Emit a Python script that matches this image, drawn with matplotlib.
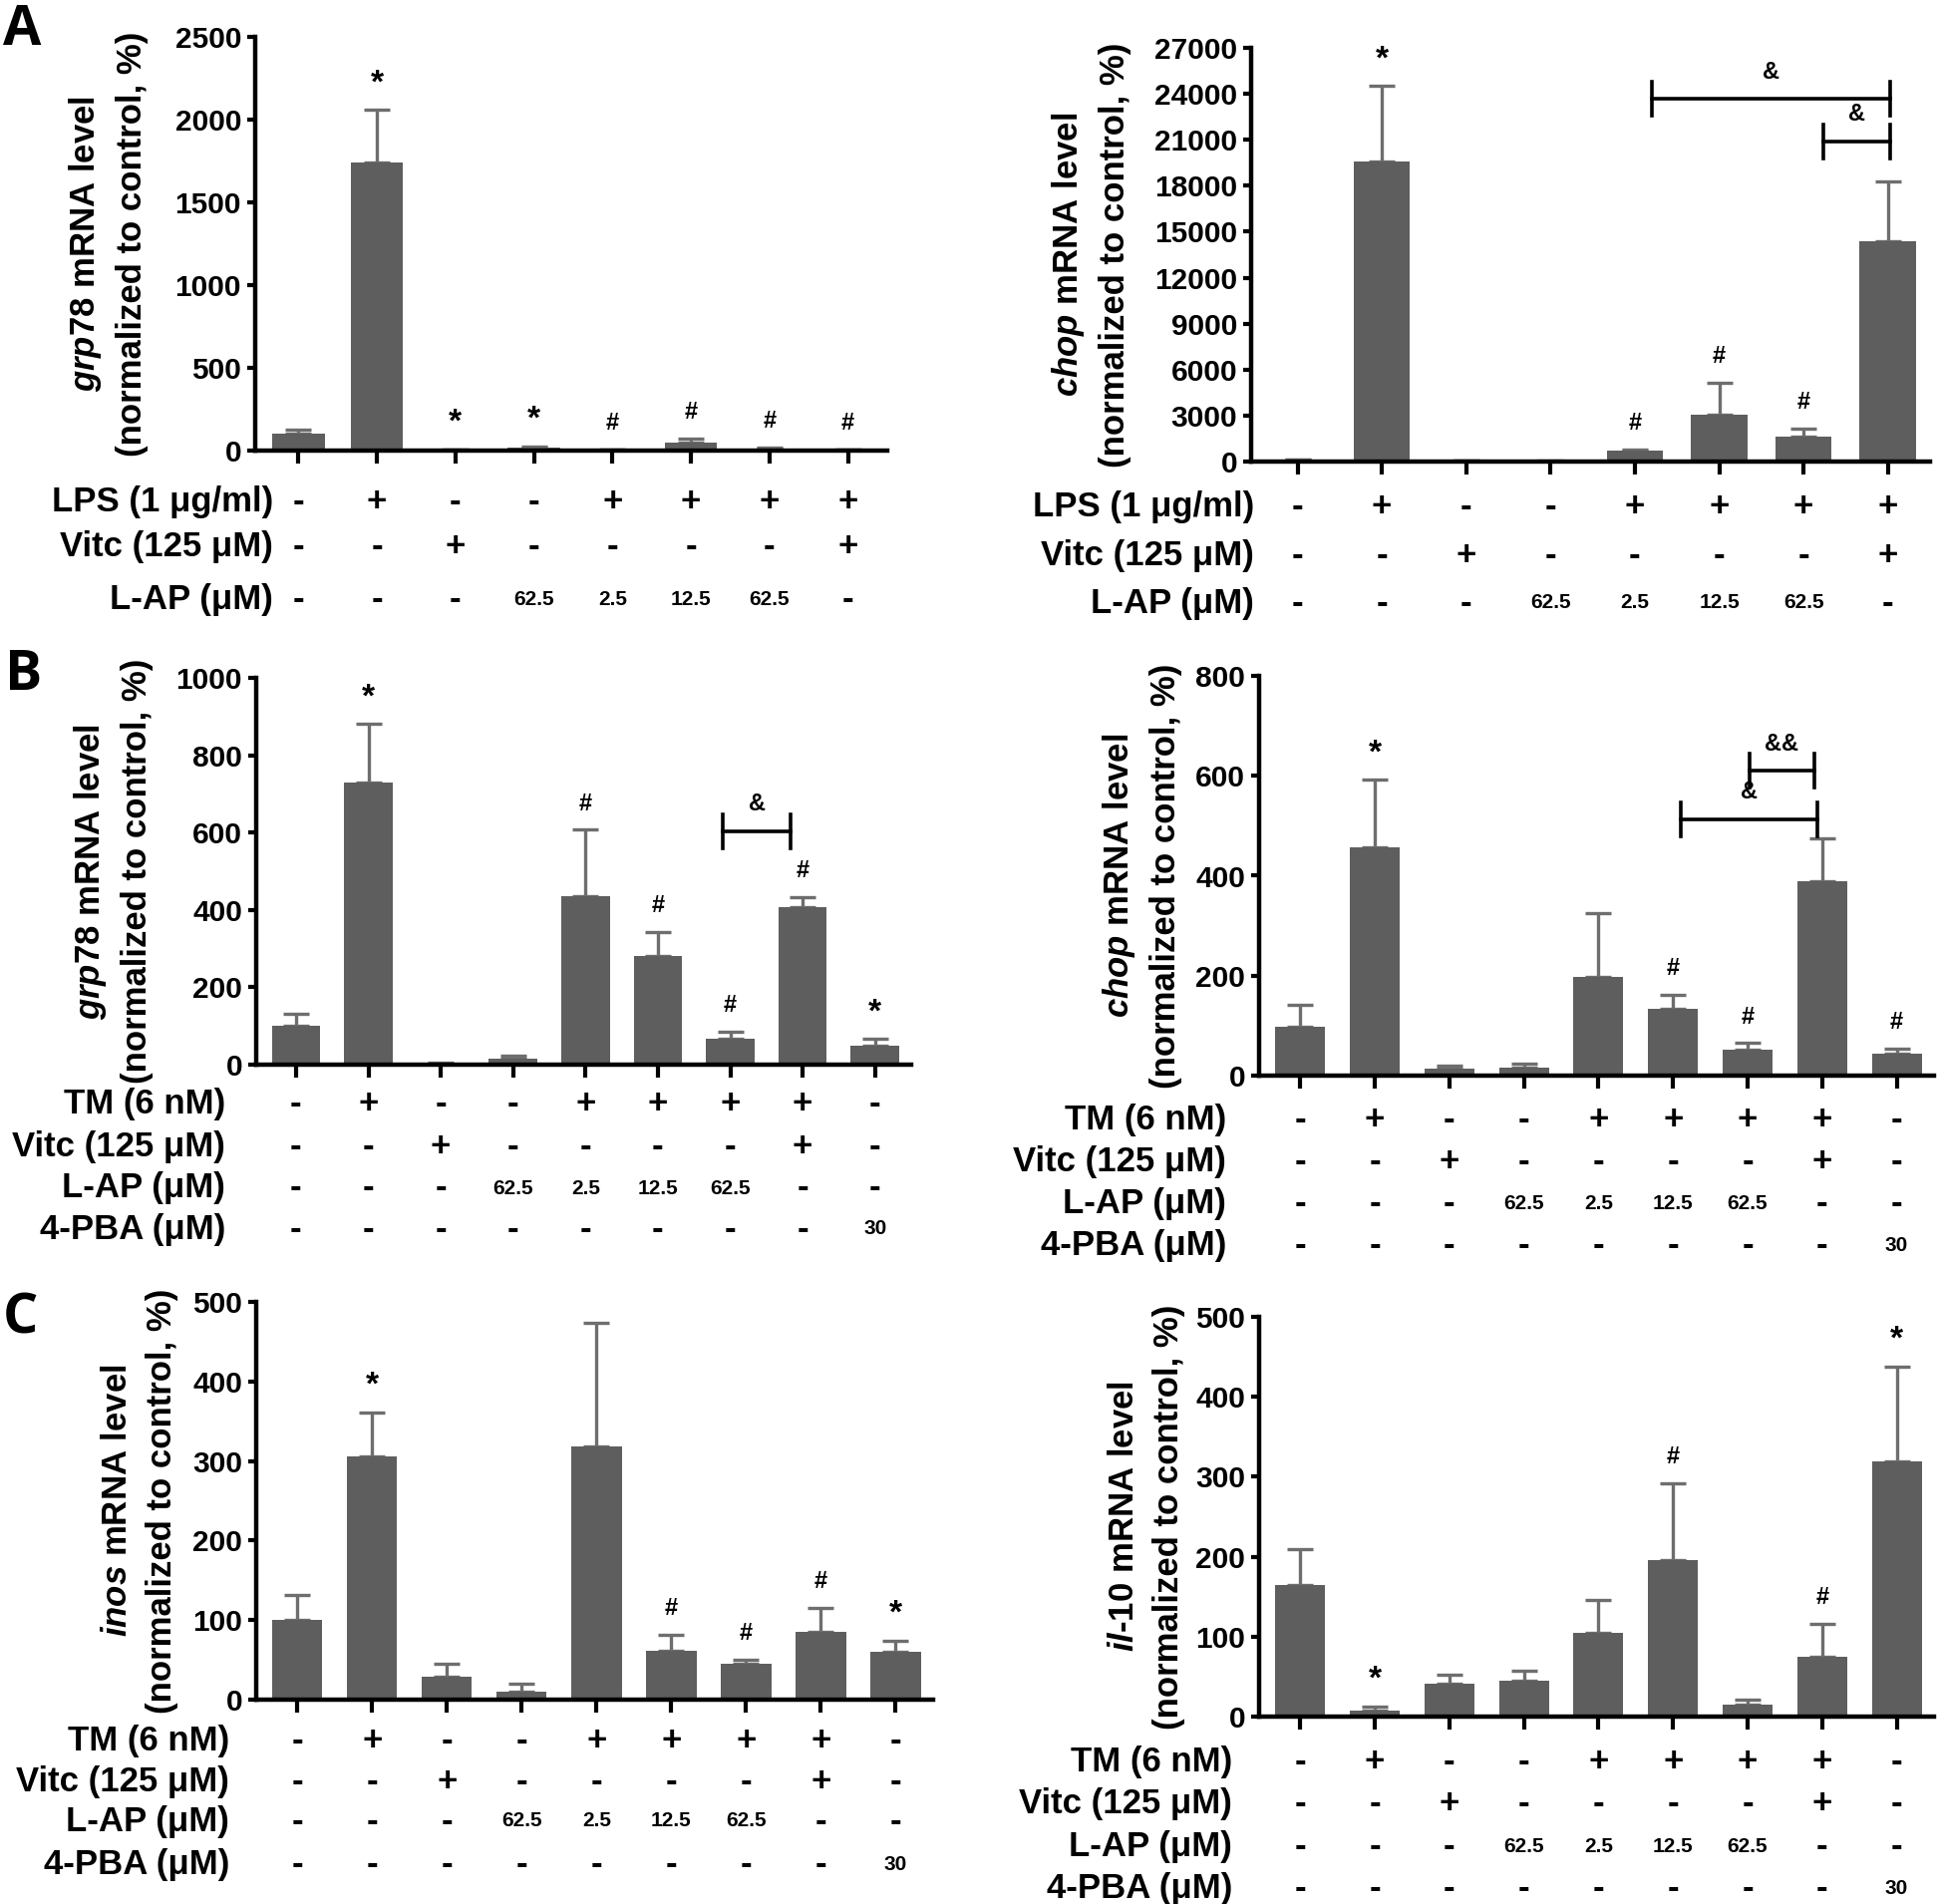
import numpy as np
import matplotlib.pyplot as plt
from matplotlib import transforms

plt.rcParams['font.family'] = ['Liberation Sans', 'DejaVu Sans']
plt.rcParams['font.weight'] = 'bold'
plt.rcParams['mathtext.fontset'] = 'custom'
plt.rcParams['mathtext.it'] = 'Liberation Sans:italic:bold'
plt.rcParams['mathtext.rm'] = 'Liberation Sans:bold'

W, H = 1944, 1910
BAR = "#5e5e5e"
ERR = "#6e6e6e"

# ---- treatment rows ----
lps_labels = ["LPS (1 μg/ml)", "Vitc (125 μM)", "L-AP (μM)"]
lps_lps = ["-", "+", "-", "-", "+", "+", "+", "+"]
lps_vitc = ["-", "-", "+", "-", "-", "-", "-", "+"]
lps_lap = ["-", "-", "-", "62.5", "2.5", "12.5", "62.5", "-"]

tm_labels = ["TM (6 nM)", "Vitc (125 μM)", "L-AP (μM)", "4-PBA (μM)"]
tm_tm = ["-", "+", "-", "-", "+", "+", "+", "+", "-"]
tm_vitc = ["-", "-", "+", "-", "-", "-", "-", "+", "-"]
tm_lap = ["-", "-", "-", "62.5", "2.5", "12.5", "62.5", "-", "-"]
tm_pba = ["-", "-", "-", "-", "-", "-", "-", "-", "30"]

# ---- A: LPS ----
grp78_lps = [100, 1740, 5, 18, 6, 50, 10, 4]
grp78_lps_err = [25, 320, 3, 8, 3, 20, 6, 2]
grp78_lps_sig = ["", "*", "*", "*", "#", "#", "#", "#"]

chop_lps = [100, 19600, 40, 30, 700, 3050, 1650, 14400]
chop_lps_err = [30, 4900, 10, 10, 100, 2080, 480, 3880]
chop_lps_sig = ["", "*", "", "", "#", "#", "#", ""]
chop_lps_brackets = [(4.2, 7.03, 23650, "&"), (6.23, 7.03, 20890, "&")]

# ---- B: TM ----
grp78_tm = [100, 730, 3, 15, 435, 280, 68, 408, 50]
grp78_tm_err = [31, 151, 3, 8, 172, 63, 18, 24, 17]
grp78_tm_sig = ["", "*", "", "", "#", "#", "#", "#", "*"]
grp78_tm_brackets = [(5.9, 6.84, 604, "&")]

chop_tm = [97, 457, 14, 16, 197, 133, 51, 390, 44]
chop_tm_err = [45, 135, 6, 8, 129, 29, 14, 85, 10]
chop_tm_sig = ["", "*", "", "", "", "#", "#", "", "#"]
chop_tm_brackets = [(6.03, 6.89, 610, "&&"), (5.1, 6.93, 513, "&")]

# ---- C: TM ----
inos_tm = [100, 306, 29, 10, 318, 62, 45, 85, 60]
inos_tm_err = [32, 55, 16, 10, 156, 19, 5, 30, 14]
inos_tm_sig = ["", "*", "", "", "", "#", "#", "#", "*"]

il10_tm = [165, 8, 41, 45, 105, 196, 15, 75, 319]
il10_tm_err = [45, 5, 11, 12, 41, 96, 6, 41, 119]
il10_tm_sig = ["", "*", "", "", "", "#", "", "#", "*"]

fig = plt.figure(figsize=(W / 100, H / 100), dpi=100)


def panel(box, means, errs, sig, ymax, ystep, gene, row_labels, rows,
          rows_y, label_right, ylab_x, brackets=()):
    xa, xe, yt, y0 = box
    n = len(means)
    ax = fig.add_axes([xa / W, 1 - y0 / H, (xe - xa) / W, (y0 - yt) / H])
    x = np.arange(n)
    ax.bar(x, means, width=0.67, color=BAR, zorder=2)
    ax.errorbar(x, means, yerr=[np.zeros(n), errs], fmt="none", ecolor=ERR,
                elinewidth=2.4, capsize=9.5, capthick=2.4, zorder=1)
    ax.set_xlim(-0.55, n - 0.5)
    ax.set_ylim(0, ymax)
    ticks = np.arange(0, ymax + 1, ystep)
    ax.set_yticks(ticks)
    ax.set_yticklabels([str(v) for v in ticks])
    ax.set_xticks(x)
    ax.set_xticklabels([])
    for s in ["top", "right"]:
        ax.spines[s].set_visible(False)
    for s in ["left", "bottom"]:
        ax.spines[s].set_linewidth(3.2)
    ax.tick_params(axis="y", length=6, width=3, labelsize=21.5, pad=4)
    ax.tick_params(axis="x", length=9, width=3)
    for lab in ax.get_yticklabels():
        lab.set_fontweight("bold")

    # significance marks
    tops = np.array(means) + np.array(errs)
    for i, m in enumerate(sig):
        if m:
            size = 24 if m == "*" else 17
            ax.annotate(m, (i, tops[i]), xytext=(0, 19), textcoords="offset points",
                        ha="center", va="center", fontsize=size, fontweight="bold",
                        annotation_clip=False)

    # comparison brackets
    px_per_unit = (y0 - yt) / ymax
    dy = 17 / px_per_unit
    for x1, x2, yb, txt in brackets:
        ax.plot([x1, x2], [yb, yb], color="black", lw=2.6, clip_on=False)
        ax.plot([x1, x1], [yb - dy, yb + dy], color="black", lw=2.6, clip_on=False)
        ax.plot([x2, x2], [yb - dy, yb + dy], color="black", lw=2.6, clip_on=False)
        ax.text((x1 + x2) / 2, yb + 27 / px_per_unit, txt, ha="center", va="center",
                fontsize=17, fontweight="bold")

    # treatment table under the axis
    trans = transforms.blended_transform_factory(ax.transData, fig.transFigure)
    for lab, vals, ry in zip(row_labels, rows, rows_y):
        fy = 1 - ry / H
        fig.text(label_right / W, fy, lab, ha="right", va="center",
                 fontsize=25, fontweight="bold")
        for i, v in enumerate(vals):
            size = 25 if v in ("+", "-") else 15
            ax.text(i, fy, v, transform=trans, ha="center", va="center",
                    fontsize=size, fontweight="bold")

    # y label
    fig.text(ylab_x / W, 1 - (yt + y0) / 2 / H,
             gene + " mRNA level\n(normalized to control, %)",
             rotation=90, ha="center", va="center", fontsize=25,
             fontweight="bold", linespacing=1.45, multialignment="center")
    return ax


panel((256, 890, 37, 452), grp78_lps, grp78_lps_err, grp78_lps_sig, 2500, 500,
      r"$\mathit{grp78}$", lps_labels, [lps_lps, lps_vitc, lps_lap],
      [503, 548, 601], 274, 108)
panel((1255, 1936, 48, 463), chop_lps, chop_lps_err, chop_lps_sig, 27000, 3000,
      r"$\mathit{chop}$", lps_labels, [lps_lps, lps_vitc, lps_lap],
      [508, 557, 605], 1258, 1094, chop_lps_brackets)
panel((257, 914, 680, 1068), grp78_tm, grp78_tm_err, grp78_tm_sig, 1000, 200,
      r"$\mathit{grp78}$", tm_labels, [tm_tm, tm_vitc, tm_lap, tm_pba],
      [1107, 1150, 1192, 1233], 226, 113, grp78_tm_brackets)
panel((1263, 1940, 678, 1079), chop_tm, chop_tm_err, chop_tm_sig, 800, 200,
      r"$\mathit{chop}$", tm_labels, [tm_tm, tm_vitc, tm_lap, tm_pba],
      [1124, 1165, 1207, 1249], 1230, 1145, chop_tm_brackets)
panel((257, 936, 1306, 1705), inos_tm, inos_tm_err, inos_tm_sig, 500, 100,
      r"$\mathit{inos}$", tm_labels, [tm_tm, tm_vitc, tm_lap, tm_pba],
      [1746, 1787, 1827, 1870], 230, 140)
panel((1263, 1940, 1321, 1722), il10_tm, il10_tm_err, il10_tm_sig, 500, 100,
      r"$\mathit{il}$-$\mathit{10}$", tm_labels, [tm_tm, tm_vitc, tm_lap, tm_pba],
      [1768, 1809, 1852, 1894], 1236, 1150)

for letter, xb, yb in [("A", 3, 45), ("B", 5, 692), ("C", 3, 1338)]:
    fig.text(xb / W, 1 - yb / H, letter, ha="left", va="baseline", fontsize=40,
             fontweight="bold", family=["Open Sans", "DejaVu Sans"])

fig.savefig("out.png", dpi=100)
